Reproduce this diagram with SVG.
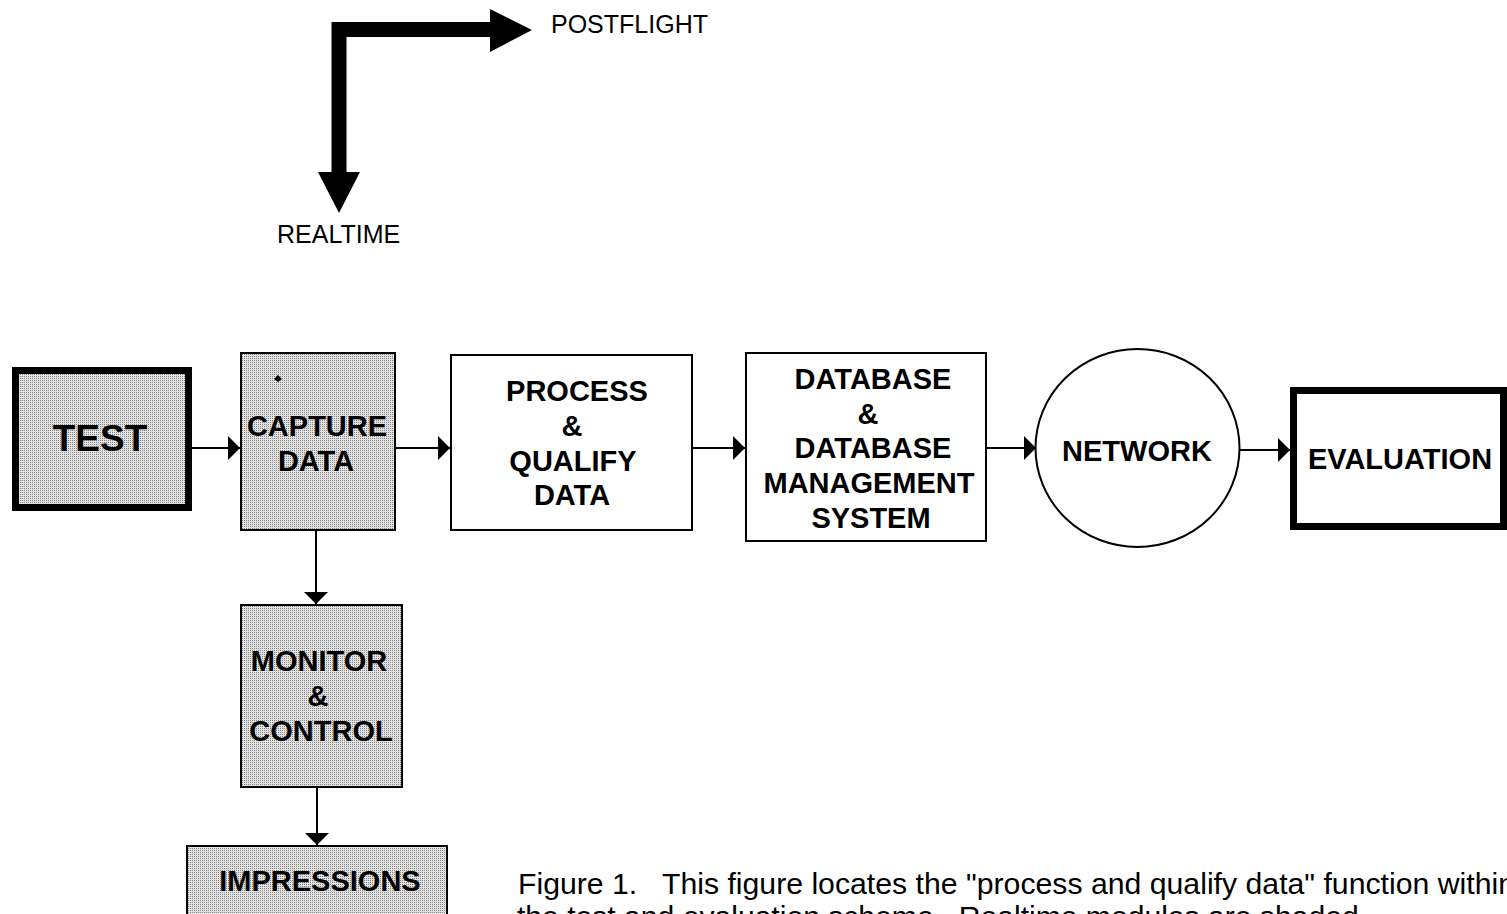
<svg xmlns="http://www.w3.org/2000/svg" width="1507" height="914" viewBox="0 0 1507 914">
  <defs>
    <!-- stipple used for the realtime (shaded) modules -->
    <pattern id="shade" width="2" height="2" patternUnits="userSpaceOnUse">
      <rect width="2" height="2" fill="#e2e2e2"/>
      <rect width="1" height="1" fill="#858585"/>
    </pattern>
    <marker id="head" viewBox="0 0 12 24" refX="12" refY="12" markerWidth="12" markerHeight="24" markerUnits="userSpaceOnUse" orient="auto">
      <path d="M0,0 L12,12 L0,24 Z" fill="#000"/>
    </marker>
  </defs>
  <style>
    .box { stroke: #000; stroke-width: 2; }
    .heavy { stroke: #000; stroke-width: 7; }
    .shaded { fill: url(#shade); }
    .plain { fill: #fff; }
    .lbl { font-family: "Liberation Sans", Arial, sans-serif; font-weight: bold; font-size: 29px; text-anchor: middle; fill: #000; }
    .legend { font-family: "Liberation Sans", Arial, sans-serif; font-size: 25px; fill: #000; }
    .caption { font-family: "Liberation Sans", Arial, sans-serif; font-size: 29px; fill: #000; white-space: pre; }
    .link { fill: none; stroke: #000; stroke-width: 2; marker-end: url(#head); }
  </style>
  <rect width="1507" height="914" fill="#fff"/>

  <!-- legend: realtime / postflight direction arrow -->
  <g id="legend">
    <path d="M339,174 V29.5 H492" fill="none" stroke="#000" stroke-width="15" stroke-linejoin="miter"/>
    <polygon points="490,9 532,30 490,52" fill="#000"/>
    <polygon points="318,172 339,213 360,172" fill="#000"/>
    <text class="legend" x="551" y="33">POSTFLIGHT</text>
    <text class="legend" x="277" y="243">REALTIME</text>
  </g>

  <g id="test">
    <rect class="heavy shaded" x="15.5" y="370.5" width="173" height="137"/>
    <text class="lbl" x="100" y="451" style="font-size:37px">TEST</text>
  </g>

  <g id="capture">
    <rect class="box shaded" x="241" y="353" width="154" height="177"/>
    <path d="M274,379 L278,375 L282,379 L278,382 Z" fill="#000"/>
    <text class="lbl" x="317" y="436">CAPTURE</text>
    <text class="lbl" x="316" y="471">DATA</text>
  </g>

  <g id="process">
    <rect class="box plain" x="451" y="355" width="241" height="175"/>
    <text class="lbl" x="577" y="401">PROCESS</text>
    <text class="lbl" x="572" y="436">&amp;</text>
    <text class="lbl" x="573" y="471">QUALIFY</text>
    <text class="lbl" x="572" y="505">DATA</text>
  </g>

  <g id="database">
    <rect class="box plain" x="746" y="353" width="240" height="188"/>
    <text class="lbl" x="873" y="389">DATABASE</text>
    <text class="lbl" x="868" y="424">&amp;</text>
    <text class="lbl" x="873" y="458">DATABASE</text>
    <text class="lbl" x="869" y="493">MANAGEMENT</text>
    <text class="lbl" x="871" y="528">SYSTEM</text>
  </g>

  <g id="network">
    <ellipse class="box plain" cx="1137.5" cy="448" rx="102" ry="99"/>
    <text class="lbl" x="1137" y="461">NETWORK</text>
  </g>

  <g id="evaluation">
    <rect class="heavy plain" x="1293.5" y="390.5" width="210" height="136"/>
    <text class="lbl" x="1400" y="469">EVALUATION</text>
  </g>

  <g id="monitor">
    <rect class="box shaded" x="241" y="605" width="161" height="182"/>
    <text class="lbl" x="319" y="671">MONITOR</text>
    <text class="lbl" x="318" y="706">&amp;</text>
    <text class="lbl" x="321" y="741">CONTROL</text>
  </g>

  <g id="impressions">
    <rect class="box shaded" x="187" y="846" width="260" height="80"/>
    <text class="lbl" x="320" y="891">IMPRESSIONS</text>
  </g>

  <!-- flow connectors -->
  <g id="connectors">
    <line class="link" x1="192" y1="448" x2="240" y2="448"/>
    <line class="link" x1="396" y1="448" x2="450" y2="448"/>
    <line class="link" x1="693" y1="448" x2="745" y2="448"/>
    <line class="link" x1="987" y1="448" x2="1036" y2="448"/>
    <line class="link" x1="1240" y1="450" x2="1290" y2="450"/>
    <line class="link" x1="316" y1="531" x2="316" y2="604"/>
    <line class="link" x1="317" y1="788" x2="317" y2="845"/>
  </g>

  <g id="caption">
    <text class="caption" x="518" y="894" textLength="997" lengthAdjust="spacingAndGlyphs" xml:space="preserve">Figure 1.   This figure locates the "process and qualify data" function within</text>
    <text class="caption" x="517" y="927" textLength="850" lengthAdjust="spacingAndGlyphs" xml:space="preserve">the test and evaluation scheme.  Realtime modules are shaded.</text>
  </g>
</svg>
